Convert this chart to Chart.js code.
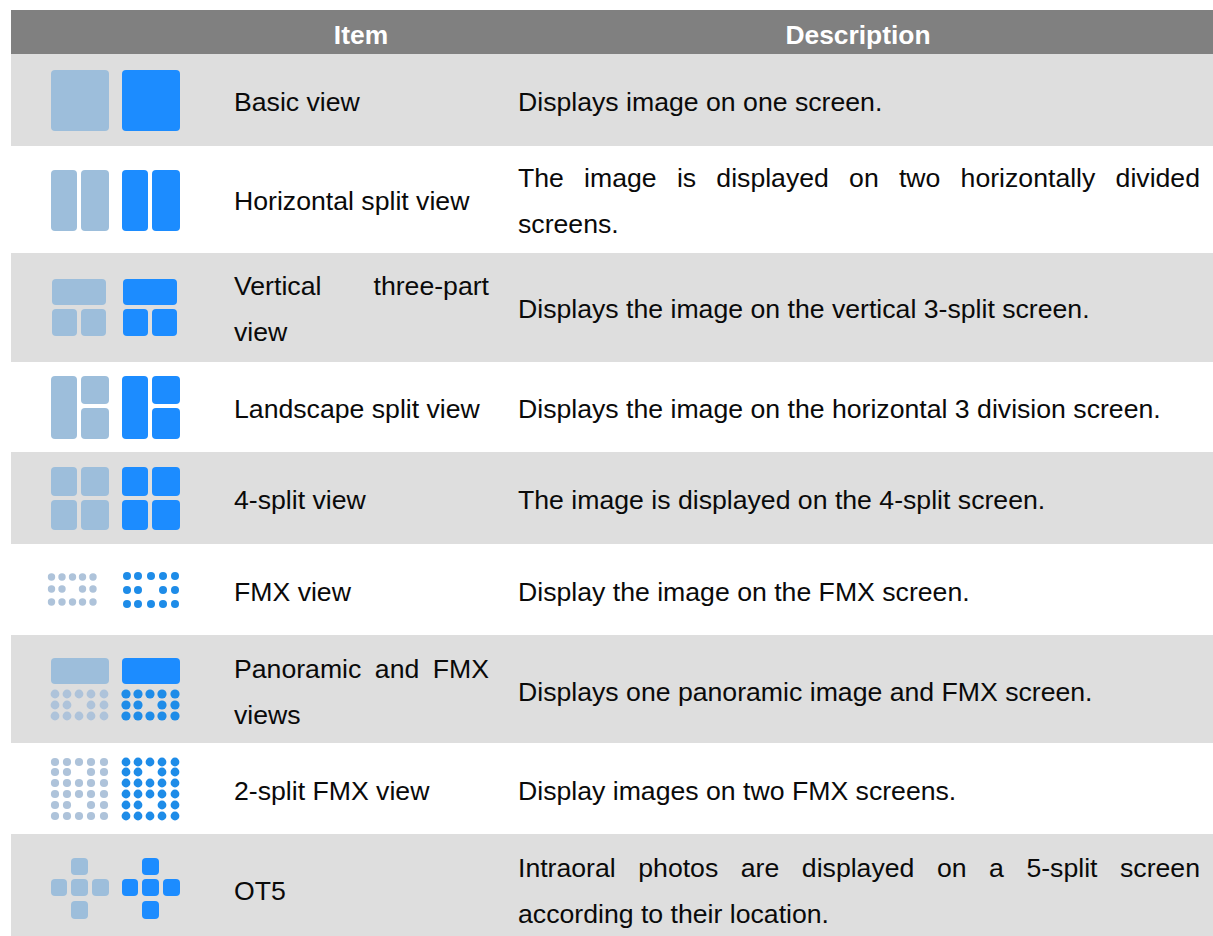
<!DOCTYPE html>
<html><head><meta charset="utf-8">
<script src="https://cdn.jsdelivr.net/npm/chart.js@4"></script>
<style>
html,body{margin:0;padding:0;background:#fff;width:1213px;height:936px;overflow:hidden}
#t{position:absolute;left:11px;top:10px;width:1202px;font-family:"Liberation Sans",Arial,sans-serif;font-size:26.65px;line-height:45.6px;color:#0a0a0a}
.r{position:absolute;left:0;width:1202px}
.r.g{background:#dedede}
.c{position:absolute;top:2px;bottom:0;display:flex;align-items:center;box-sizing:border-box}
.c div{width:100%;text-align:justify}
.i{left:223px;width:255px}.d{left:507px;width:682px}
.h{background:#808080;color:#fff;font-weight:bold;font-size:26.4px}
.h .c{top:1px;justify-content:center}.h .c div{text-align:center}
.h .i{left:0;width:700px}.h .d{left:700px;width:294px}
canvas{position:absolute;left:0;top:0;filter:blur(.7px)}
</style></head><body>
<div id="t"></div>
<canvas id="c" width="1213" height="936"></canvas>
<script>
const headers=["Item","Description"];
const items=["Basic view","Horizontal split view","Vertical three-part view","Landscape split view","4-split view","FMX view","Panoramic and FMX views","2-split FMX view","OT5"];
const descriptions=["Displays image on one screen.","The image is displayed on two horizontally divided screens.","Displays the image on the vertical 3-split screen.","Displays the image on the horizontal 3 division screen.","The image is displayed on the 4-split screen.","Display the image on the FMX screen.","Displays one panoramic image and FMX screen.","Display images on two FMX screens.","Intraoral photos are displayed on a 5-split screen according to their location."];
const rowEdges=[10,54,146,253,362,452,544,635,743,834,936];
const textNudge=[3,2,1,1,2,2,2,3,2,6];

// icon panels: [x0,x1,y0,y1] on the page-wide value scales
const lightPanels=[
[51,109,70,131],
[51,77,170,231],[81,109,170,231],
[52,106,279,305],[52,77,309,336],[81,106,309,336],
[51,77,376,439],[81,109,376,404],[81,109,408,439],
[51,77,467,496],[81,109,467,496],[51,77,500,530],[81,109,500,530],
[51,109,658,684],
[71,88,858,875],[51,67,879,896],[71,88,879,896],[92,109,879,896],[71,88,901,919]];
const darkPanels=[
[122,180,70,131],
[122,148,170,231],[152,180,170,231],
[123,177,279,305],[123,148,309,336],[152,177,309,336],
[122,148,376,439],[152,180,376,404],[152,180,408,439],
[122,148,467,496],[152,180,467,496],[122,148,500,530],[152,180,500,530],
[122,180,658,684],
[142,159,858,875],[122,138,879,896],[142,159,879,896],[163,180,879,896],[142,159,901,919]];

// thumbnails: dot columns and rows
const fmxLightX=[51.5,62,72.5,82.5,93], fmxDarkX=[127,138,151,163,175];
const panoLightX=[55,67,79,91,104], panoDarkX=[126,138,150,162,175];
const fmxLightY=[577,589,602], fmxDarkY=[576,590,604];
const panoY=[694,705,716];
const twoSplitY=[762,772,783,794,805,816];
const gapRows=[589,590,705,772,805];   // rows where the middle dot is missing

const LIGHT="#9dbedb", DARK="#1c8cff", DOT_LIGHT="#aec3da", DOT_DARK="#1e8ce8";

function dots(xs,ys,r){const out=[];ys.forEach(y=>xs.forEach((x,i)=>{if(i===2&&gapRows.includes(y))return;out.push({x,y,r});}));return out;}
function panelSets(panels,color){
  const byW={};
  panels.forEach(p=>{const w=p[1]-p[0];(byW[w]=byW[w]||[]).push({x:(p[0]+p[1])/2,y:[p[2],p[3]]});});
  return Object.keys(byW).map(w=>({type:"bar",data:byW[w],barThickness:+w,grouped:false,backgroundColor:color,borderRadius:4,borderSkipped:false,inflateAmount:0}));
}
function dotSet(data,color){return {type:"bubble",data,backgroundColor:color,borderWidth:0,hoverRadius:0};}

// table text
const t=document.getElementById("t");
function row(y0,y1,cls,a,b,n){
  const r=document.createElement("div");r.className="r "+cls;r.style.top=(y0-10)+"px";r.style.height=(y1-y0)+"px";
  [["i",a],["d",b]].forEach(([k,s])=>{const c=document.createElement("div");c.className="c "+k;c.style.transform="translateY("+n+"px)";const d=document.createElement("div");d.textContent=s;c.appendChild(d);r.appendChild(c);});
  t.appendChild(r);
}
row(rowEdges[0],rowEdges[1],"h",headers[0],headers[1],textNudge[0]);
items.forEach((s,i)=>row(rowEdges[i+1],rowEdges[i+2],i%2?"":"g",s,descriptions[i],textNudge[i+1]));

new Chart(document.getElementById("c"),{
  data:{datasets:[
    ...panelSets(lightPanels,LIGHT),
    ...panelSets(darkPanels,DARK),
    dotSet(dots(fmxLightX,fmxLightY,3.7),DOT_LIGHT),
    dotSet(dots(fmxDarkX,fmxDarkY,4),DOT_DARK),
    dotSet(dots(panoLightX,panoY,4.4),DOT_LIGHT),
    dotSet(dots(panoDarkX,panoY,4.6),DOT_DARK),
    dotSet(dots(panoLightX,twoSplitY,4.1),DOT_LIGHT),
    dotSet(dots(panoDarkX,twoSplitY,4.4),DOT_DARK)
  ]},
  options:{responsive:false,animation:false,events:[],clip:false,
    layout:{padding:0,autoPadding:false},
    plugins:{legend:{display:false},tooltip:{enabled:false}},
    scales:{
      x:{type:"linear",min:0,max:1213,display:false,offset:false,grid:{display:false}},
      y:{type:"linear",min:0,max:936,reverse:true,display:false,grid:{display:false}}
    }}
});
</script>
</body></html>
